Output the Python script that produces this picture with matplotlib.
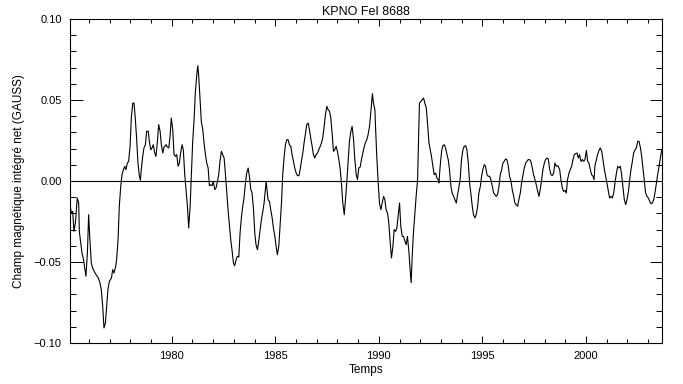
import matplotlib
matplotlib.use("Agg")
import matplotlib.pyplot as plt
from matplotlib.ticker import MultipleLocator

title = "KPNO FeI 8688"
xlabel = "Temps"
ylabel = "Champ magnétique intégré net (GAUSS)"

years = [
 1975.09, 1975.15, 1975.22, 1975.28, 1975.35, 1975.44, 1975.51, 1975.54, 1975.60, 1975.67,
 1975.73, 1975.80, 1975.86, 1975.93, 1975.99, 1976.05, 1976.12, 1976.18, 1976.30, 1976.46,
 1976.54, 1976.60, 1976.67, 1976.73, 1976.80, 1976.86, 1976.92, 1976.99, 1977.09, 1977.15,
 1977.21, 1977.28, 1977.34, 1977.41, 1977.47, 1977.54, 1977.60, 1977.67, 1977.73, 1977.79,
 1977.86, 1977.92, 1977.99, 1978.05, 1978.12, 1978.18, 1978.24, 1978.31, 1978.37, 1978.44,
 1978.49, 1978.53, 1978.60, 1978.66, 1978.73, 1978.79, 1978.87, 1978.92, 1978.99, 1979.05,
 1979.11, 1979.18, 1979.24, 1979.31, 1979.37, 1979.44, 1979.50, 1979.57, 1979.63, 1979.73,
 1979.76, 1979.86, 1979.92, 1979.98, 1980.05, 1980.11, 1980.18, 1980.24, 1980.31, 1980.37,
 1980.43, 1980.50, 1980.56, 1980.63, 1980.69, 1980.76, 1980.82, 1980.89, 1980.95, 1981.01,
 1981.08, 1981.14, 1981.21, 1981.26, 1981.30, 1981.37, 1981.43, 1981.50, 1981.56, 1981.63,
 1981.69, 1981.76, 1981.82, 1981.88, 1981.95, 1982.01, 1982.08, 1982.14, 1982.21, 1982.27,
 1982.33, 1982.40, 1982.46, 1982.53, 1982.59, 1982.66, 1982.72, 1982.79, 1982.85, 1982.91,
 1982.98, 1983.04, 1983.11, 1983.17, 1983.24, 1983.30, 1983.37, 1983.43, 1983.49, 1983.56,
 1983.62, 1983.69, 1983.75, 1983.82, 1983.88, 1983.95, 1984.01, 1984.07, 1984.14, 1984.20,
 1984.27, 1984.33, 1984.40, 1984.46, 1984.56, 1984.65, 1984.72, 1984.78, 1984.85, 1984.91,
 1984.98, 1985.04, 1985.10, 1985.17, 1985.23, 1985.30, 1985.36, 1985.43, 1985.49, 1985.56,
 1985.62, 1985.68, 1985.75, 1985.81, 1985.88, 1985.94, 1986.01, 1986.07, 1986.14, 1986.20,
 1986.26, 1986.33, 1986.39, 1986.46, 1986.52, 1986.59, 1986.65, 1986.71, 1986.78, 1986.84,
 1986.91, 1986.97, 1987.04, 1987.10, 1987.17, 1987.23, 1987.29, 1987.36, 1987.42, 1987.49,
 1987.55, 1987.62, 1987.68, 1987.75, 1987.81, 1987.87, 1987.94, 1988.00, 1988.07, 1988.13,
 1988.20, 1988.26, 1988.33, 1988.39, 1988.45, 1988.52, 1988.58, 1988.65, 1988.71, 1988.78,
 1988.84, 1988.91, 1988.97, 1989.03, 1989.10, 1989.16, 1989.23, 1989.29, 1989.36, 1989.42,
 1989.48, 1989.55, 1989.61, 1989.69, 1989.74, 1989.81, 1989.84, 1989.90, 1989.97, 1990.03,
 1990.10, 1990.16, 1990.23, 1990.29, 1990.35, 1990.42, 1990.48, 1990.55, 1990.61, 1990.68,
 1990.74, 1990.81, 1990.87, 1990.93, 1991.00, 1991.06, 1991.13, 1991.19, 1991.26, 1991.32,
 1991.38, 1991.45, 1991.51, 1991.56, 1991.61, 1991.67, 1991.74, 1991.80, 1991.87, 1991.90,
 1991.93, 1991.96, 1992.03, 1992.09, 1992.16, 1992.22, 1992.29, 1992.35, 1992.42, 1992.48,
 1992.54, 1992.61, 1992.67, 1992.74, 1992.80, 1992.87, 1992.90, 1992.96, 1993.03, 1993.09,
 1993.16, 1993.22, 1993.29, 1993.35, 1993.41, 1993.48, 1993.54, 1993.61, 1993.67, 1993.74,
 1993.80, 1993.86, 1993.93, 1993.99, 1994.06, 1994.12, 1994.19, 1994.25, 1994.32, 1994.38,
 1994.44, 1994.51, 1994.57, 1994.64, 1994.70, 1994.77, 1994.83, 1994.90, 1994.96, 1995.02,
 1995.09, 1995.15, 1995.22, 1995.28, 1995.35, 1995.41, 1995.48, 1995.54, 1995.60, 1995.67,
 1995.73, 1995.80, 1995.86, 1995.93, 1995.99, 1996.05, 1996.12, 1996.18, 1996.25, 1996.31,
 1996.38, 1996.44, 1996.51, 1996.57, 1996.63, 1996.70, 1996.76, 1996.83, 1996.89, 1996.96,
 1997.02, 1997.09, 1997.15, 1997.21, 1997.28, 1997.34, 1997.41, 1997.47, 1997.54, 1997.60,
 1997.67, 1997.73, 1997.79, 1997.86, 1997.92, 1997.99, 1998.05, 1998.12, 1998.18, 1998.25,
 1998.31, 1998.37, 1998.44, 1998.50, 1998.57, 1998.63, 1998.66, 1998.73, 1998.79, 1998.86,
 1998.92, 1998.99, 1999.05, 1999.11, 1999.18, 1999.24, 1999.31, 1999.37, 1999.44, 1999.50,
 1999.57, 1999.63, 1999.69, 1999.76, 1999.82, 1999.89, 1999.95, 2000.02, 2000.08, 2000.14,
 2000.21, 2000.27, 2000.34, 2000.39, 2000.43, 2000.50, 2000.56, 2000.63, 2000.69, 2000.76,
 2000.82, 2000.89, 2000.95, 2001.01, 2001.08, 2001.14, 2001.21, 2001.27, 2001.34, 2001.40,
 2001.47, 2001.53, 2001.59, 2001.66, 2001.72, 2001.79, 2001.85, 2001.92, 2001.98, 2002.05,
 2002.11, 2002.17, 2002.24, 2002.30, 2002.37, 2002.43, 2002.50, 2002.56, 2002.63, 2002.69,
 2002.75, 2002.82, 2002.88, 2002.95, 2003.01, 2003.08, 2003.14, 2003.20, 2003.27, 2003.33,
 2003.40, 2003.46, 2003.53, 2003.59, 2003.66,
]

field = [
 -0.0136, -0.0198, -0.0187, -0.0311, -0.0259, -0.0105, -0.0136, -0.0311, -0.0372, -0.0447,
 -0.0475, -0.0537, -0.0588, -0.0444, -0.0208, -0.0362, -0.0506, -0.0537, -0.0568, -0.0599,
 -0.0630, -0.0671, -0.0774, -0.0907, -0.0877, -0.0774, -0.0671, -0.0619, -0.0599, -0.0547,
 -0.0568, -0.0537, -0.0486, -0.0362, -0.0156, -0.0033, 0.0039, 0.0070, 0.0091, 0.0070,
 0.0111, 0.0121, 0.0214, 0.0389, 0.0481, 0.0481, 0.0389, 0.0255, 0.0111, 0.0029,
 0.0004, 0.0070, 0.0152, 0.0204, 0.0224, 0.0307, 0.0307, 0.0245, 0.0193, 0.0204,
 0.0224, 0.0173, 0.0152, 0.0245, 0.0348, 0.0307, 0.0224, 0.0173, 0.0210, 0.0224,
 0.0214, 0.0204, 0.0276, 0.0389, 0.0317, 0.0163, 0.0152, 0.0163, 0.0091, 0.0111,
 0.0173, 0.0224, 0.0193, 0.0039, -0.0053, -0.0156, -0.0290, -0.0156, 0.0039, 0.0235,
 0.0379, 0.0543, 0.0656, 0.0712, 0.0656, 0.0502, 0.0368, 0.0317, 0.0235, 0.0163,
 0.0111, 0.0080, -0.0029, -0.0023, -0.0029, -0.0002, -0.0053, -0.0043, -0.0002, 0.0039,
 0.0121, 0.0183, 0.0163, 0.0142, 0.0049, -0.0074, -0.0177, -0.0280, -0.0364, -0.0424,
 -0.0506, -0.0523, -0.0486, -0.0465, -0.0469, -0.0321, -0.0218, -0.0156, -0.0105, -0.0012,
 0.0049, 0.0080, 0.0029, -0.0053, -0.0074, -0.0177, -0.0321, -0.0393, -0.0424, -0.0372,
 -0.0300, -0.0239, -0.0187, -0.0136, -0.0002, -0.0115, -0.0126, -0.0177, -0.0228, -0.0290,
 -0.0342, -0.0403, -0.0455, -0.0403, -0.0280, -0.0136, 0.0039, 0.0152, 0.0224, 0.0255,
 0.0255, 0.0224, 0.0214, 0.0163, 0.0121, 0.0080, 0.0049, 0.0033, 0.0033, 0.0070,
 0.0121, 0.0173, 0.0235, 0.0296, 0.0348, 0.0358, 0.0317, 0.0265, 0.0214, 0.0163,
 0.0142, 0.0163, 0.0173, 0.0193, 0.0214, 0.0235, 0.0265, 0.0337, 0.0409, 0.0461,
 0.0440, 0.0430, 0.0389, 0.0286, 0.0183, 0.0193, 0.0214, 0.0183, 0.0132, 0.0080,
 -0.0023, -0.0136, -0.0208, -0.0115, -0.0012, 0.0132, 0.0245, 0.0307, 0.0337, 0.0255,
 0.0132, 0.0039, 0.0008, 0.0080, 0.0086, 0.0132, 0.0173, 0.0210, 0.0239, 0.0255,
 0.0286, 0.0337, 0.0420, 0.0539, 0.0481, 0.0440, 0.0337, 0.0152, -0.0012, -0.0136,
 -0.0177, -0.0136, -0.0095, -0.0115, -0.0177, -0.0198, -0.0259, -0.0383, -0.0475, -0.0403,
 -0.0300, -0.0311, -0.0290, -0.0218, -0.0136, -0.0280, -0.0342, -0.0342, -0.0372, -0.0393,
 -0.0342, -0.0434, -0.0547, -0.0628, -0.0465, -0.0321, -0.0198, -0.0095, 0.0008, 0.0173,
 0.0337, 0.0481, 0.0492, 0.0502, 0.0512, 0.0481, 0.0451, 0.0358, 0.0235, 0.0193,
 0.0152, 0.0091, 0.0039, 0.0049, 0.0019, 0.0008, -0.0012, 0.0091, 0.0183, 0.0218,
 0.0224, 0.0204, 0.0163, 0.0132, 0.0070, -0.0033, -0.0074, -0.0095, -0.0115, -0.0136,
 -0.0084, -0.0043, 0.0019, 0.0132, 0.0193, 0.0214, 0.0218, 0.0193, 0.0111, -0.0012,
 -0.0074, -0.0156, -0.0208, -0.0228, -0.0208, -0.0156, -0.0074, -0.0033, 0.0029, 0.0070,
 0.0101, 0.0091, 0.0039, 0.0029, 0.0029, 0.0008, -0.0033, -0.0074, -0.0084, -0.0095,
 -0.0084, -0.0033, 0.0039, 0.0070, 0.0111, 0.0121, 0.0136, 0.0132, 0.0091, 0.0029,
 -0.0002, -0.0053, -0.0095, -0.0136, -0.0146, -0.0156, -0.0115, -0.0074, -0.0012, 0.0039,
 0.0080, 0.0111, 0.0121, 0.0132, 0.0132, 0.0121, 0.0080, 0.0039, 0.0008, -0.0023,
 -0.0064, -0.0095, -0.0053, 0.0008, 0.0070, 0.0111, 0.0132, 0.0142, 0.0136, 0.0070,
 0.0039, 0.0033, 0.0049, 0.0111, 0.0091, 0.0095, 0.0091, 0.0070, 0.0008, -0.0043,
 -0.0064, -0.0058, -0.0074, 0.0008, 0.0049, 0.0070, 0.0091, 0.0132, 0.0163, 0.0169,
 0.0173, 0.0142, 0.0163, 0.0121, 0.0132, 0.0121, 0.0132, 0.0189, 0.0121, 0.0111,
 0.0070, 0.0039, 0.0029, 0.0008, 0.0091, 0.0132, 0.0163, 0.0189, 0.0204, 0.0183,
 0.0132, 0.0070, 0.0029, -0.0012, -0.0064, -0.0105, -0.0095, -0.0105, -0.0074, -0.0012,
 0.0049, 0.0091, 0.0080, 0.0091, 0.0039, -0.0043, -0.0115, -0.0146, -0.0115, -0.0064,
 0.0008, 0.0070, 0.0121, 0.0173, 0.0193, 0.0204, 0.0245, 0.0245, 0.0204, 0.0152,
 0.0080, -0.0002, -0.0074, -0.0095, -0.0105, -0.0126, -0.0140, -0.0136, -0.0115, -0.0074,
 -0.0012, 0.0039, 0.0091, 0.0142, 0.0193,
]

x_range = (1975.09, 2003.67)
y_range = (-0.10, 0.10)

plt.rcParams['font.family'] = ['Liberation Sans', 'DejaVu Sans']

fig = plt.figure(figsize=(6.83, 3.84), dpi=100)
ax = fig.add_axes([70/683, 1 - 343/384, (662 - 70)/683, (343 - 19)/384])

ax.plot(years, field, color='black', lw=0.8)
ax.axhline(0.0, color='black', lw=0.8)

ax.set_xlim(*x_range)
ax.set_ylim(*y_range)

ax.xaxis.set_major_locator(MultipleLocator(5))
ax.xaxis.set_minor_locator(MultipleLocator(1))
ax.yaxis.set_major_locator(MultipleLocator(0.05))
ax.yaxis.set_minor_locator(MultipleLocator(0.01))
ax.yaxis.set_major_formatter(matplotlib.ticker.FuncFormatter(lambda v, p: f"{v:.2f}".replace('-', '\u2212') if abs(v) > 1e-9 else "0.00"))

ax.tick_params(axis='x', which='major', direction='in', length=5, width=0.7, top=True, labelsize=8, pad=6)
ax.tick_params(axis='x', which='minor', direction='in', length=2.8, width=0.7, top=True)
ax.tick_params(axis='y', which='major', direction='in', length=9, width=0.7, right=True, labelsize=8, pad=6)
ax.tick_params(axis='y', which='minor', direction='in', length=4.3, width=0.7, right=True)
for s in ax.spines.values():
    s.set_linewidth(0.8)

ax.set_title(title, fontsize=9, pad=3)
ax.set_xlabel(xlabel, fontsize=8.5, labelpad=2)
ax.set_ylabel(ylabel, fontsize=8.5, labelpad=6)

fig.savefig("out.png", dpi=100)
